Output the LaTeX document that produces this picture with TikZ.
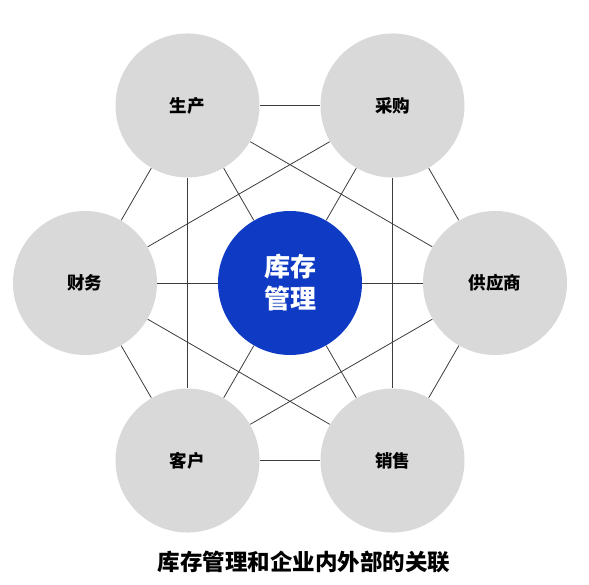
\documentclass[tikz,border=0pt]{standalone}
\usepackage{fontspec}
\setmainfont{Noto Sans CJK SC}
\usepackage{tikz}

\definecolor{hubblue}{RGB}{14,58,196}
\definecolor{ringgray}{RGB}{217,217,217}
\definecolor{linkgray}{RGB}{60,60,60}

\begin{document}
\begin{tikzpicture}[x=1pt,y=1pt,line width=0.8pt,draw=linkgray]
  \tikzstyle{part}=[circle,fill=ringgray,minimum size=144pt,inner sep=0pt,
                    text=black,font=\bfseries\fontsize{17.5}{17.5}\selectfont]
  \tikzstyle{hub}=[circle,fill=hubblue,minimum size=144pt,inner sep=0pt,
                   text=white,align=center,font=\bfseries\fontsize{26}{32}\selectfont]
  \useasboundingbox (-290,-302) rectangle (299,283);

  \node[hub]  (K) at (0,0)     {库存\\管理};
  \node[part] (P) at (120:205) {生产};
  \node[part] (B) at (60:205)  {采购};
  \node[part] (S) at (0:205)   {供应商};
  \node[part] (X) at (-60:205) {销售};
  \node[part] (C) at (-120:205){客户};
  \node[part] (F) at (180:205) {财务};

  \node (title) at (14,-279) {\bfseries\fontsize{22.5}{22.5}\selectfont 库存管理和企业内外部的关联};

  \path[draw=linkgray]
        (P) edge (B) edge (S) edge (C) edge (F) edge (K)
        (B) edge (S) edge (X) edge (F) edge (K)
        (S) edge (X) edge (C) edge (K)
        (X) edge (C) edge (F) edge (K)
        (C) edge (F) edge (K)
        (F) edge (K);
\end{tikzpicture}
\end{document}
